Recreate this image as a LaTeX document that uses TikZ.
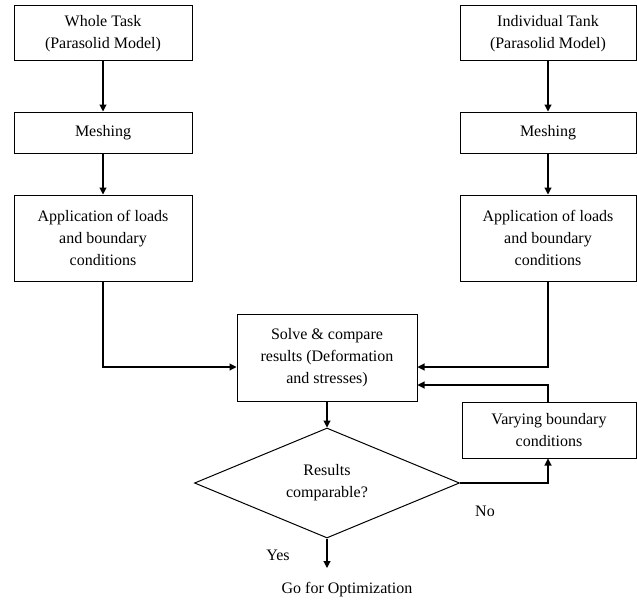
\documentclass[tikz,border=0pt]{standalone}
\usepackage{fontspec}
\setmainfont{Liberation Serif}
\usetikzlibrary{shapes.geometric,arrows.meta}
\begin{document}
\begin{tikzpicture}[x=1pt,y=-1pt,
  box/.style={draw,line width=1pt,align=center,inner sep=2pt,font=\fontsize{16}{22}\selectfont},
  lbl/.style={font=\fontsize{16}{22}\selectfont,inner sep=0pt},
  arr/.style={line width=1.1pt,-{Triangle[length=7pt,width=7pt]}}]
\useasboundingbox (0,0) rectangle (637,602);
\node[box,minimum width=178pt,minimum height=55pt] (wt) at (103,33.5) {Whole Task\\(Parasolid Model)};
\node[box,minimum width=178pt,minimum height=41pt] (m1) at (103,132.5) {Meshing};
\node[box,minimum width=178pt,minimum height=86pt] (a1) at (103,238) {Application of loads\\and boundary\\conditions};
\node[box,minimum width=176pt,minimum height=55pt] (it) at (548,33.5) {Individual Tank\\(Parasolid Model)};
\node[box,minimum width=176pt,minimum height=41pt] (m2) at (548,132.5) {Meshing};
\node[box,minimum width=176pt,minimum height=86pt] (a2) at (548,238) {Application of loads\\and boundary\\conditions};
\node[box,minimum width=180pt,minimum height=87pt] (sv) at (327,357.5) {Solve \& compare\\results (Deformation\\and stresses)};
\node[box,minimum width=174pt,minimum height=56pt] (vb) at (549,430) {Varying boundary\\conditions};
\node[box,shape=diamond,aspect=2.4,minimum width=265pt,minimum height=110pt,inner sep=0pt] (dia) at (327,483) {Results\\comparable?};
\coordinate (goend) at (327,568);
\node[lbl] (go) at (347,590) {Go for Optimization};
\node[lbl] (yes) at (278,555) {Yes};
\node[lbl] (no) at (485,511) {No};
\draw[arr] (wt) -- (m1);
\draw[arr] (m1) -- (a1);
\draw[arr] (it) -- (m2);
\draw[arr] (m2) -- (a2);
\draw[arr] (a1.south) |- ([yshift=-9.5pt]sv.west);
\draw[arr] (a2.south) |- ([yshift=-9.5pt]sv.east);
\draw[arr] ([xshift=-1pt]vb.north) |- ([yshift=-27.5pt]sv.east);
\draw[arr] (sv.south) -- (dia.north);
\draw[arr] (dia.east) -| ([xshift=-1pt]vb.south);
\draw[arr] (dia.south) -- (goend);
\end{tikzpicture}
\end{document}
